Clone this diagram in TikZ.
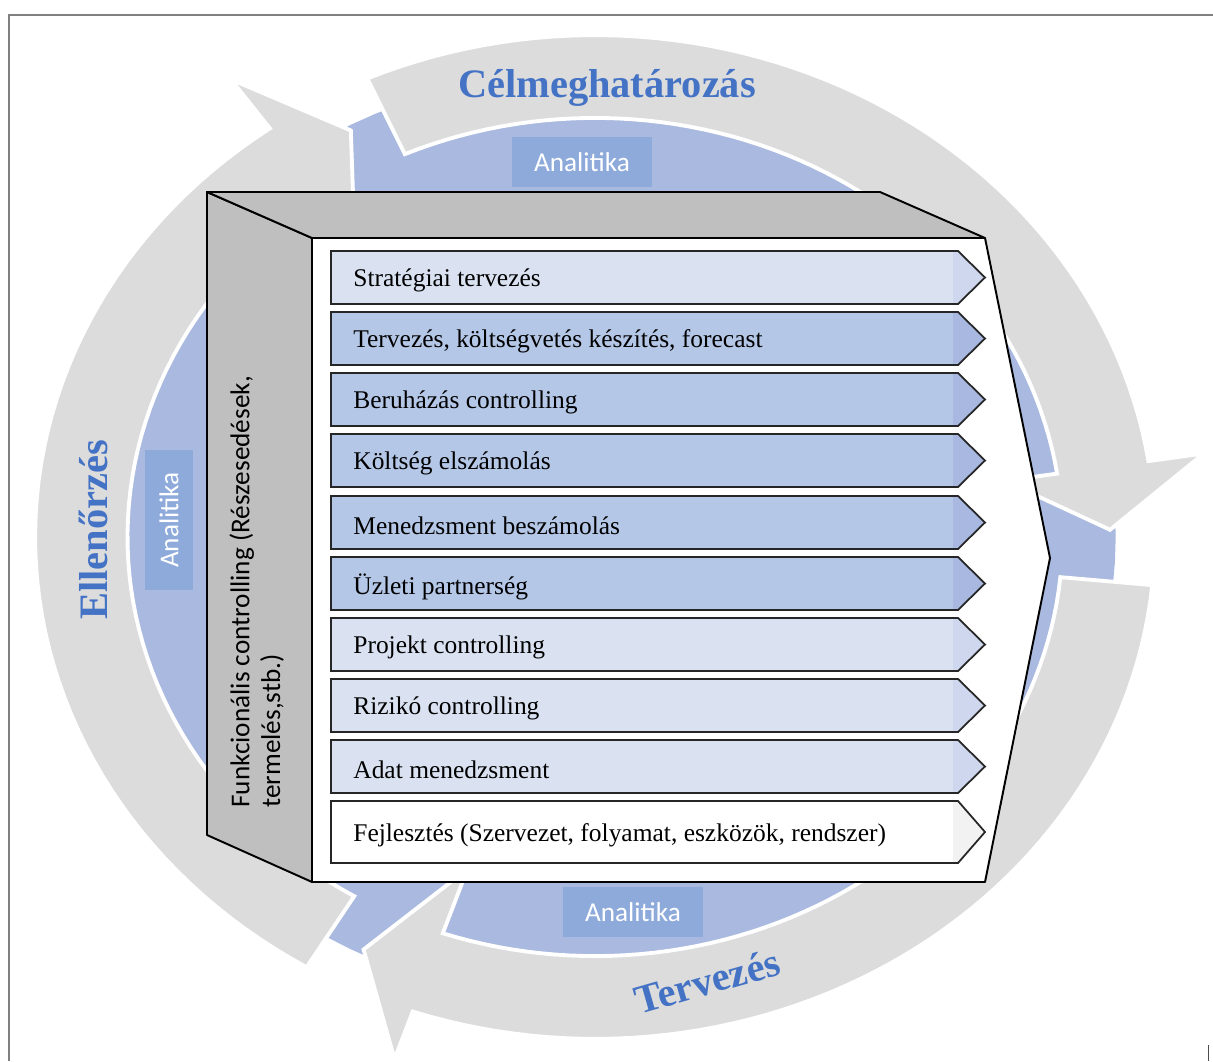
\documentclass[tikz,border=0pt]{standalone}
\usepackage{fontspec}
\setmainfont{Liberation Serif}
\newfontfamily\calibri{Carlito}
\usepackage{xcolor}
\usepackage{tikz}
\usetikzlibrary{positioning}

\definecolor{ringgray}{RGB}{220,220,220}
\definecolor{ringblue}{RGB}{170,185,224}
\definecolor{anablue}{RGB}{142,170,219}
\definecolor{titleblue}{RGB}{68,114,196}
\definecolor{boxgray}{RGB}{191,191,191}
\definecolor{rowlight}{RGB}{218,226,242}
\definecolor{tiplight}{RGB}{207,215,238}
\definecolor{rowmid}{RGB}{180,199,231}
\definecolor{tipmid}{RGB}{168,184,224}
\definecolor{rowwhite}{RGB}{255,255,255}
\definecolor{tipwhite}{RGB}{242,242,242}
\definecolor{framegray}{RGB}{128,128,128}

% tail angle, head angle, tip angle, outer barb, inner barb
\newcommand{\cyclearrow}[5]{%
  \path[cyclepart] (#1:1) -- plot[domain=#1:#2, samples=60] (\x:1) -- (#2:#4)
    -- (#3:0.92) -- (#2:#5) -- (#2:0.835)
    -- plot[domain=#2:#1, samples=60] (\x:0.835) -- cycle;}

\begin{document}
\begin{tikzpicture}[
    x=0.02cm, y=-0.02cm,
    cyclepart/.style={fill=ringgray, draw=white, line width=2.2pt},
    cyclelbl/.style={font=\fontsize{23}{26}\selectfont\bfseries, text=titleblue, inner sep=0pt},
    anabox/.style={fill=anablue, text=white, font=\calibri\fontsize{15.5}{18}\selectfont, minimum width=2.82cm, minimum height=1cm, inner sep=0pt},
    boxface/.style={fill=boxgray, draw=black, line width=1.1pt, line join=round},
    rowline/.style={draw=black!85, line width=1pt, line join=miter},
    rowtext/.style={font=\fontsize{14.5}{17}\selectfont, anchor=west, inner sep=0pt},
    sidetext/.style={font=\calibri\fontsize{15.5}{17.6}\selectfont, align=left, inner sep=0pt}
]
\useasboundingbox (0,0) rectangle (1213,1061);

% frame
\draw[framegray, line width=1.7pt] (9,1061) -- (9,15) -- (1213,15);
\draw[black!70, line width=0.5pt] (1208,1045) -- (1208,1061);

% ring of arrows
\begin{scope}[shift={(595,537)}, x=11.2cm, y=10.04cm]
  \fill[ringblue] plot[domain=0:360, samples=120] (\x:0.93) -- cycle;
  \cyclearrow{114}{8.7}{0.9}{1.1}{0.74}
  \cyclearrow{-5.5}{-109}{-116.7}{1.1}{0.7}
  \cyclearrow{239}{125.5}{118.3}{1.12}{0.74}
\end{scope}

\node[cyclelbl] (celm) at (607,88) {Célmeghatározás};
\node[cyclelbl, rotate=90] (ellen) at (93,530) {Ellenőrzés};
\node[cyclelbl, rotate=16] (terv) at (707,981) {Tervezés};

\node[anabox] (anatop) at (582,162) {Analitika};
\node[anabox, rotate=90, minimum height=0.96cm] (analeft) at (169,520) {Analitika};
\node[anabox] (anabot) at (633,912) {Analitika};

% the box
\path[boxface] (207,192) -- (312,238) -- (312,882) -- (207,835) -- cycle;
\path[boxface] (207,192) -- (880,192) -- (985,238) -- (312,238) -- cycle;
\path[boxface, fill=white] (312,238) -- (985,238) -- (1050,558) -- (985,882) -- (312,882) -- cycle;

\foreach \yt/\h/\body/\tip/\txt [count=\i] in {
    251/53/rowlight/tiplight/{Stratégiai tervezés},
    312/53/rowmid/tipmid/{Tervezés, költségvetés készítés, forecast},
    373/53/rowmid/tipmid/{Beruházás controlling},
    434/53/rowmid/tipmid/{Költség elszámolás},
    496/53/rowmid/tipmid/{Menedzsment beszámolás},
    557/53/rowmid/tipmid/{Üzleti partnerség},
    618/53/rowlight/tiplight/{Projekt controlling},
    679/53/rowlight/tiplight/{Rizikó controlling},
    740/53/rowlight/tiplight/{Adat menedzsment},
    801/62/rowwhite/tipwhite/{Fejlesztés (Szervezet, folyamat, eszközök, rendszer)}}
{
  \fill[\body] (331,\yt) -- (958,\yt) -- (985,{\yt+\h/2}) -- (958,{\yt+\h}) -- (331,{\yt+\h}) -- cycle;
  \fill[\tip] (953,\yt) -- (958,\yt) -- (985,{\yt+\h/2}) -- (958,{\yt+\h}) -- (953,{\yt+\h}) -- cycle;
  \draw[rowline] (331,\yt) -- (958,\yt) -- (985,{\yt+\h/2}) -- (958,{\yt+\h}) -- (331,{\yt+\h}) -- cycle;
  \node[rowtext] (row\i) at (353,{\yt+\h/2+3}) {\txt};
}

\node[sidetext, rotate=90, anchor=north west] (sidelbl) at (229,808)
  {Funkcionális controlling (Részesedések,\\termelés,stb.)};

\end{tikzpicture}
\end{document}
